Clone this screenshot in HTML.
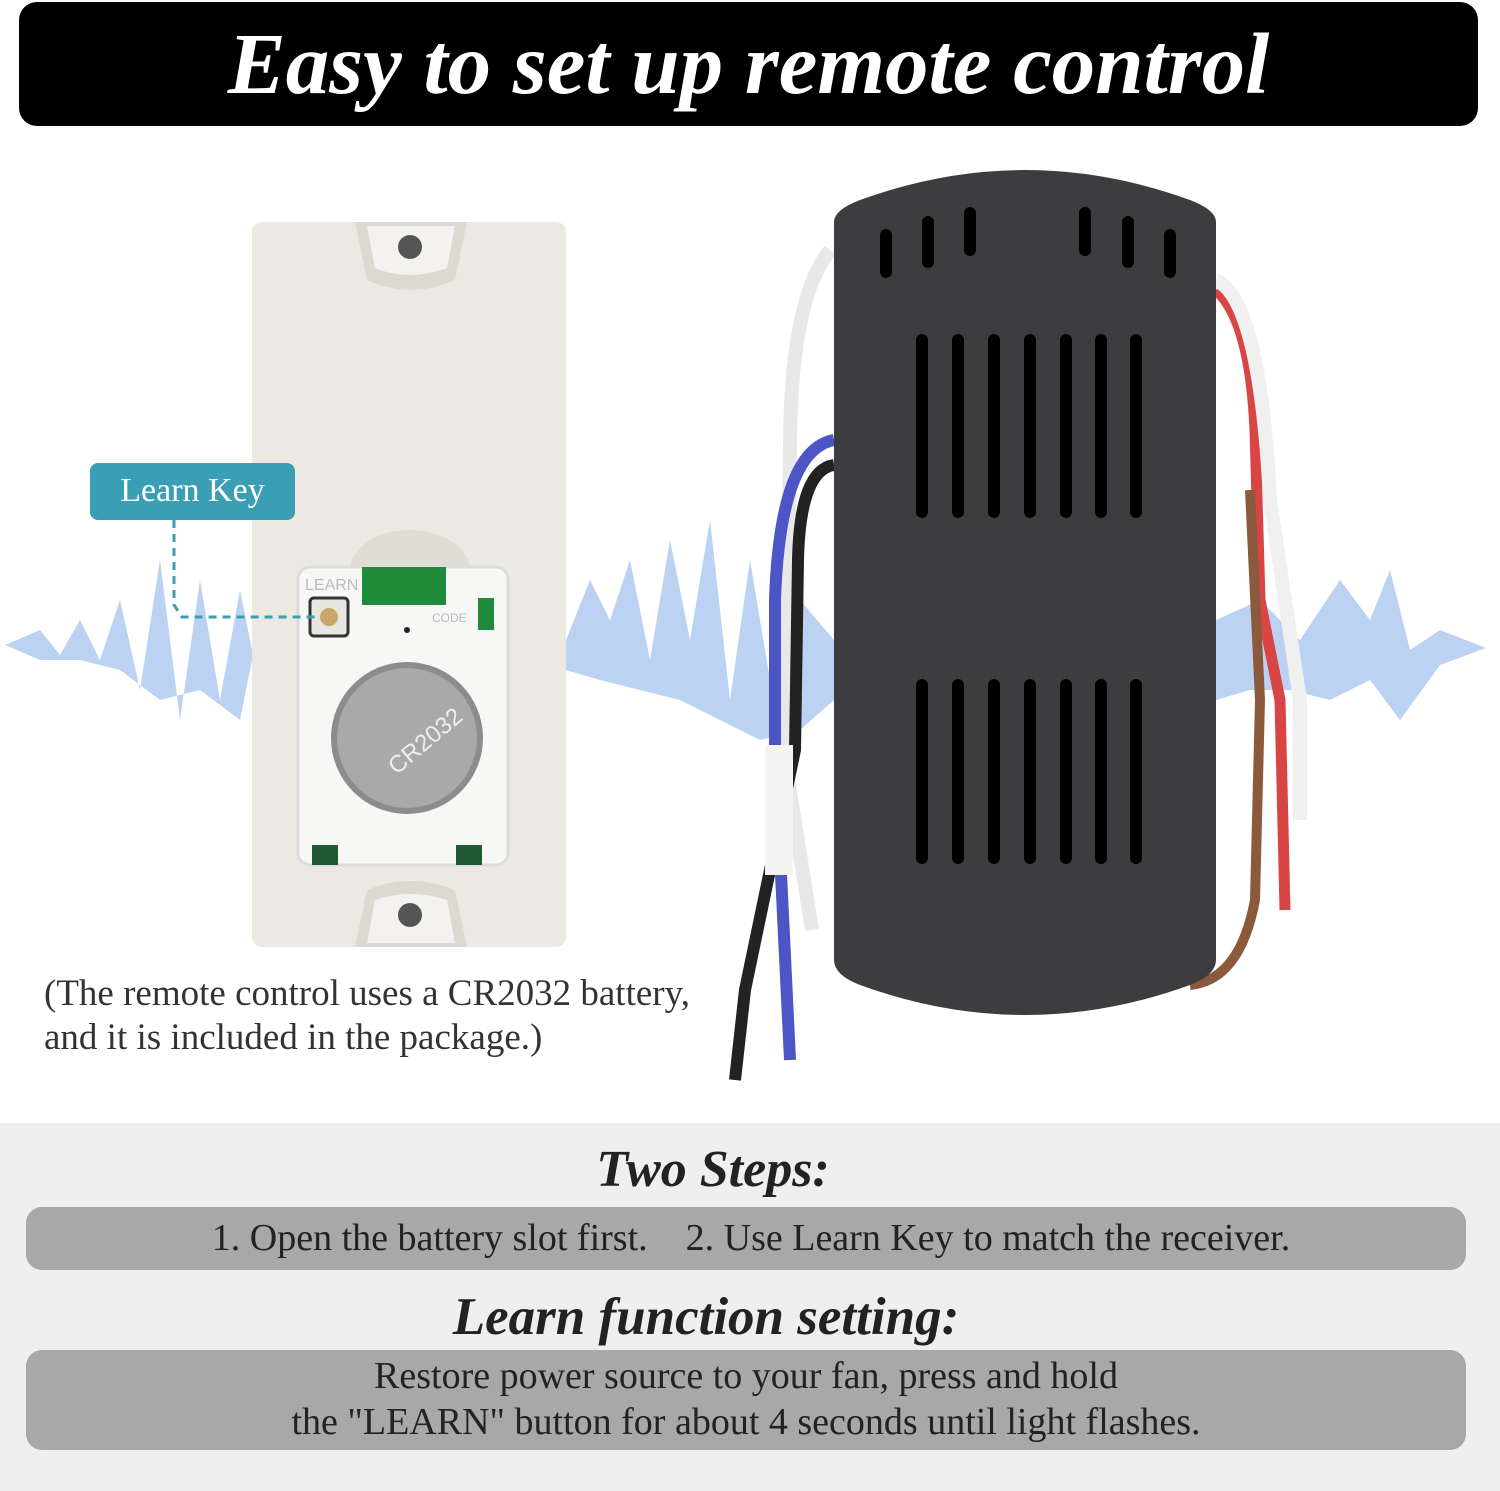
<!DOCTYPE html>
<html><head><meta charset="utf-8"><style>
*{margin:0;padding:0;box-sizing:border-box}
body{width:1500px;height:1491px;background:#fff;position:relative;overflow:hidden;font-family:"Liberation Serif",serif}
.abs{position:absolute}
</style></head><body>
<div class="abs" style="left:19px;top:2px;width:1459px;height:124px;background:#000;border-radius:18px;color:#fff;font-weight:bold;font-style:italic;font-size:87px;text-align:center;line-height:124px">Easy to set up remote control</div>

<svg class="abs" style="left:0;top:0" width="1500" height="1123">
<path fill="#bcd2f3" d="M5 645 L40 630 L60 655 L80 620 L100 660 L120 600 L140 690 L160 560 L180 720 L200 580 L220 700 L240 590 L252 650 L252 660 L240 720 L200 690 L160 700 L120 670 L80 660 L40 660 Z"/>
<path fill="#bcd2f3" d="M566 640 L590 580 L610 620 L630 560 L650 660 L670 540 L690 640 L710 520 L730 700 L750 560 L770 680 L800 600 L834 640 L834 700 L800 730 L760 740 L720 720 L680 700 L640 690 L600 680 L566 670 Z"/>
<path fill="#bcd2f3" d="M1216 620 L1260 600 L1300 640 L1340 580 L1370 620 L1390 570 L1410 650 L1440 630 L1486 648 L1440 665 L1400 720 L1370 680 L1330 700 L1290 690 L1250 690 L1216 700 Z"/>
<rect x="252" y="222" width="314" height="725" rx="10" fill="#ece9e2"/>
<path d="M355 222 L467 222 L455 280 Q410 300 367 280 Z" fill="#dcd9d1"/>
<path d="M367 226 L455 226 L447 268 Q410 282 375 268 Z" fill="#f4f2ee"/>
<circle cx="410" cy="247" r="12" fill="#555"/>
<path d="M355 947 L467 947 L455 890 Q410 872 367 890 Z" fill="#dcd9d1"/>
<path d="M367 943 L455 943 L447 900 Q410 888 375 900 Z" fill="#f4f2ee"/>
<circle cx="410" cy="915" r="12" fill="#555"/>
<ellipse cx="410" cy="570" rx="60" ry="40" fill="#e0ddd5"/>
<rect x="298" y="567" width="210" height="298" rx="12" fill="#f7f7f6" stroke="#dcdcdc" stroke-width="3"/>
<rect x="362" y="567" width="84" height="38" fill="#1f8a3a"/>
<rect x="478" y="598" width="16" height="32" fill="#1f8a3a"/>
<rect x="310" y="598" width="38" height="38" rx="4" fill="#e8e6e0" stroke="#333" stroke-width="3"/>
<circle cx="329" cy="617" r="9" fill="#c8a86a"/>
<circle cx="407" cy="630" r="3" fill="#222"/>
<rect x="312" y="845" width="26" height="20" fill="#1f5a32"/>
<rect x="456" y="845" width="26" height="20" fill="#1f5a32"/>
<text x="305" y="590" font-family="Liberation Sans" font-size="16" fill="#bbb">LEARN</text>
<text x="432" y="622" font-family="Liberation Sans" font-size="12" fill="#bbb">CODE</text>
<circle cx="407" cy="738" r="76" fill="#8c8c8c"/>
<circle cx="407" cy="738" r="70" fill="#a9a9a9"/>
<text x="375" y="760" transform="rotate(-40 407 738)" font-family="Liberation Sans" font-size="24" fill="#eee">CR2032</text>
<path d="M174 520 L174 605 L182 617 L315 617" fill="none" stroke="#3a9fb5" stroke-width="3" stroke-dasharray="8 6"/>
<path d="M830 250 Q790 300 790 450 L785 760 L812 930" stroke="#e8e8e8" stroke-width="14" fill="none"/>
<path d="M834 440 Q780 450 775 600 L775 750 L790 1060" stroke="#4b55c6" stroke-width="12" fill="none"/>
<path d="M834 465 Q800 470 798 560 L795 750 L745 990 L735 1080" stroke="#222" stroke-width="12" fill="none"/>
<rect x="765" y="745" width="28" height="130" fill="#f4f4f4"/>
<path d="M1216 290 Q1250 320 1255 430 L1260 600 L1280 700 L1285 910" stroke="#d94545" stroke-width="11" fill="none"/>
<path d="M1216 280 Q1260 300 1270 500 L1300 700 L1300 820" stroke="#f0f0f0" stroke-width="14" fill="none"/>
<path d="M1250 490 L1260 700 L1255 900 Q1240 980 1190 985" stroke="#8b5a3c" stroke-width="10" fill="none"/>
<path d="M834 222 Q834 210 860 200 Q1025 140 1190 200 Q1216 210 1216 222 L1216 960 Q1216 975 1190 985 Q1025 1045 860 985 Q834 975 834 960 Z" fill="#3d3d3f"/>
<g stroke="#000" stroke-width="12" stroke-linecap="round">
<line x1="886" y1="235" x2="886" y2="272"/><line x1="928" y1="222" x2="928" y2="262"/><line x1="970" y1="213" x2="970" y2="250"/>
<line x1="1085" y1="213" x2="1085" y2="250"/><line x1="1128" y1="222" x2="1128" y2="262"/><line x1="1170" y1="235" x2="1170" y2="272"/>
<line x1="922" y1="340" x2="922" y2="512"/><line x1="958" y1="340" x2="958" y2="512"/><line x1="994" y1="340" x2="994" y2="512"/><line x1="1030" y1="340" x2="1030" y2="512"/><line x1="1066" y1="340" x2="1066" y2="512"/><line x1="1101" y1="340" x2="1101" y2="512"/><line x1="1136" y1="340" x2="1136" y2="512"/>
<line x1="922" y1="685" x2="922" y2="858"/><line x1="958" y1="685" x2="958" y2="858"/><line x1="994" y1="685" x2="994" y2="858"/><line x1="1030" y1="685" x2="1030" y2="858"/><line x1="1066" y1="685" x2="1066" y2="858"/><line x1="1101" y1="685" x2="1101" y2="858"/><line x1="1136" y1="685" x2="1136" y2="858"/>
</g>
</svg>

<div class="abs" style="left:90px;top:463px;width:205px;height:57px;background:#3a9fb5;border-radius:8px;color:#fff;font-size:34px;text-align:center;line-height:56px">Learn Key</div>
<div class="abs" style="left:44px;top:972px;font-size:37px;color:#333;line-height:44px;white-space:nowrap">(The remote control uses a CR2032 battery,<br>and it is included in the package.)</div>

<div class="abs" style="left:0;top:1123px;width:1500px;height:368px;background:#efefef"></div>
<div class="abs" style="left:0;top:1140px;width:1426px;text-align:center;font-size:52px;font-weight:bold;font-style:italic;color:#222">Two Steps:</div>
<div class="abs" style="left:26px;top:1207px;width:1440px;height:63px;background:#a8a8a8;border-radius:16px;color:#222;font-size:38px;line-height:63px;text-align:center;padding-left:10px;white-space:nowrap">1. Open the battery slot first. &nbsp;&nbsp;&nbsp;2. Use Learn Key to match the receiver.</div>
<div class="abs" style="left:0;top:1287px;width:1412px;text-align:center;font-size:53px;font-weight:bold;font-style:italic;color:#222">Learn function setting:</div>
<div class="abs" style="left:26px;top:1350px;width:1440px;height:100px;background:#a8a8a8;border-radius:16px;color:#222;font-size:38px;line-height:46px;text-align:center;padding-top:3px;white-space:nowrap">Restore power source to your fan, press and hold<br>the "LEARN" button for about 4 seconds until light flashes.</div>
</body></html>
